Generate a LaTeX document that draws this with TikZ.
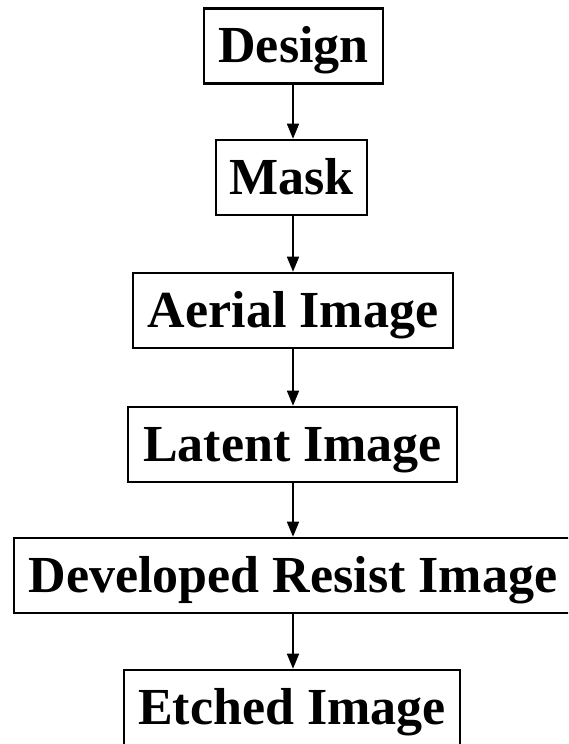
\documentclass[tikz,border=0pt]{standalone}
\usepackage{fontspec}
\setmainfont{Liberation Serif}
\usetikzlibrary{arrows.meta}
\tikzset{
  stage/.style={draw, line width=2.5pt, inner sep=0pt, minimum height=75pt,
    text height=34pt, text depth=0pt, font=\bfseries\fontsize{52}{60}\selectfont},
  flow/.style={line width=1.5pt, -{Triangle[length=15pt,width=12pt]}}
}
\begin{document}
\begin{tikzpicture}[x=1pt,y=1pt]
\useasboundingbox (0,0) rectangle (568,744);
\clip (0,0) rectangle (568,744);
\node[stage, minimum width=179pt] (design) at (293.5,698) {Design};
\node[stage, minimum width=151pt] (mask) at (291.5,566.5) {Mask};
\node[stage, minimum width=320pt] (aerial) at (293,433.5) {Aerial Image};
\node[stage, minimum width=329pt] (latent) at (292.5,299.5) {Latent Image};
\node[stage, minimum width=558pt] (dev) at (293,168.5) {Developed Resist Image};
\node[stage, minimum width=336pt] (etch) at (292,36.5) {Etched Image};
\coordinate (a1) at (293,0);
\draw[flow] (design.south -| a1) -- (mask.north -| a1);
\draw[flow] (mask.south -| a1) -- (aerial.north -| a1);
\draw[flow] (aerial.south -| a1) -- (latent.north -| a1);
\draw[flow] (latent.south -| a1) -- (dev.north -| a1);
\draw[flow] (dev.south -| a1) -- (etch.north -| a1);
\end{tikzpicture}
\end{document}
